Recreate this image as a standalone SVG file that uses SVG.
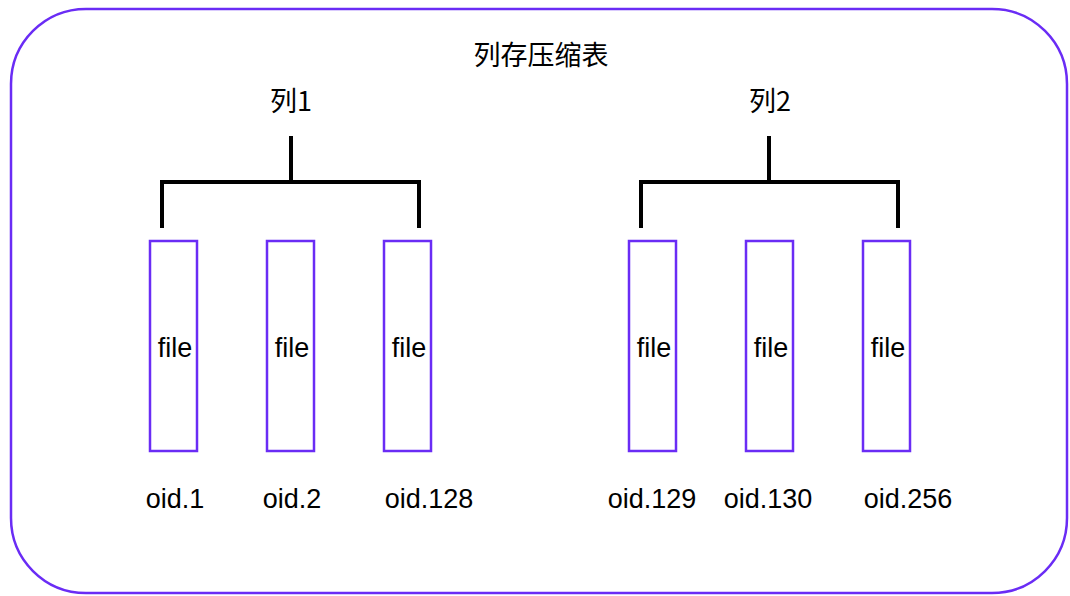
<svg xmlns="http://www.w3.org/2000/svg" width="1070" height="596" viewBox="0 0 1070 596">
<style>
.frame{fill:#fff;stroke:#6a2cf5;stroke-width:2.5}
.box{fill:#fff;stroke:#6a2cf5;stroke-width:2.5}
.br{fill:none;stroke:#000;stroke-width:4}
.t{font-family:"Liberation Sans","Noto Sans CJK SC",sans-serif;font-size:27px;fill:#000;text-anchor:middle}
.cjk{font-family:"Noto Sans CJK SC","Liberation Sans",sans-serif;font-size:27px;fill:#000;text-anchor:middle}
</style>
<rect width="1070" height="596" fill="#fff"/>
<g id="table">
<rect class="frame" x="11" y="9" width="1056" height="584" rx="75" ry="75"/>
<text class="cjk" x="541" y="65">列存压缩表</text>
</g>
<g id="col1"><text class="cjk" x="291" y="111">列1</text></g>
<g id="col2"><text class="cjk" x="770" y="111">列2</text></g>
<g id="connectors">
<path class="br" d="M291,136 V182 M162,228 V182 H419 V228"/>
<path class="br" d="M769,136 V182 M641,228 V182 H898 V228"/>
</g>
<g id="f1"><rect class="box" x="150" y="241" width="47" height="210"/><text class="t" x="175" y="357">file</text><text class="t" x="175" y="508">oid.1</text></g>
<g id="f2"><rect class="box" x="267" y="241" width="47" height="210"/><text class="t" x="292" y="357">file</text><text class="t" x="292" y="508">oid.2</text></g>
<g id="f3"><rect class="box" x="384" y="241" width="47" height="210"/><text class="t" x="409" y="357">file</text><text class="t" x="429" y="508">oid.128</text></g>
<g id="f4"><rect class="box" x="629" y="241" width="47" height="210"/><text class="t" x="654" y="357">file</text><text class="t" x="652" y="508">oid.129</text></g>
<g id="f5"><rect class="box" x="746" y="241" width="47" height="210"/><text class="t" x="771" y="357">file</text><text class="t" x="768" y="508">oid.130</text></g>
<g id="f6"><rect class="box" x="863" y="241" width="47" height="210"/><text class="t" x="888" y="357">file</text><text class="t" x="908" y="508">oid.256</text></g>
</svg>
